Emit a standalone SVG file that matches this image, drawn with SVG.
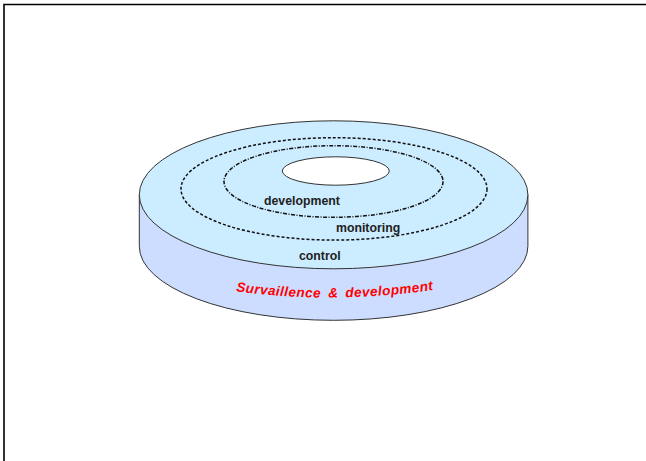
<svg xmlns="http://www.w3.org/2000/svg" width="646" height="461" viewBox="0 0 646 461">
<style>
.lbl{font-family:"Liberation Sans",Arial,sans-serif;font-weight:bold;font-size:12.3px;fill:#222}
.red{font-family:"Liberation Sans",Arial,sans-serif;font-weight:bold;font-style:italic;font-size:13.5px;fill:#ff0000;word-spacing:3px}
.edge{stroke:#333;stroke-width:1;}
.ring{fill:none;stroke:#111;stroke-width:1.5}
</style>
<defs>
<path id="arc" d="M 234 291 Q 333 305 440 289"/>
</defs>
<rect x="0" y="0" width="646" height="461" fill="#fff"/>
<path d="M4 461 V4.5 H646" fill="none" stroke="#000" stroke-width="1.6"/>
<g id="disk">
<path class="edge" d="M139.3 194.8 V246.3 A194.3 74 0 0 0 527.9 246.3 V194.8 Z" fill="#CCDDFF"/>
<ellipse class="edge" cx="333.6" cy="194.8" rx="194.3" ry="74" fill="#CCECFF"/>
<ellipse class="edge" cx="335.8" cy="171" rx="53.5" ry="14.2" fill="#fff"/>
</g>
<g id="rings">
<ellipse class="ring" cx="334" cy="188.9" rx="153" ry="51.2" stroke-dasharray="3 2"/>
<ellipse class="ring" cx="333.5" cy="181.5" rx="109.5" ry="35.8" stroke-dasharray="4 1.5 1 1.5"/>
</g>
<g id="labels">
<text class="lbl" x="264" y="205">development</text>
<text class="lbl" x="336" y="232">monitoring</text>
<text class="lbl" x="299" y="259.5">control</text>
<text class="red"><textPath href="#arc" startOffset="2" textLength="198" lengthAdjust="spacing">Survaillence &amp; development</textPath></text>
</g>
</svg>
